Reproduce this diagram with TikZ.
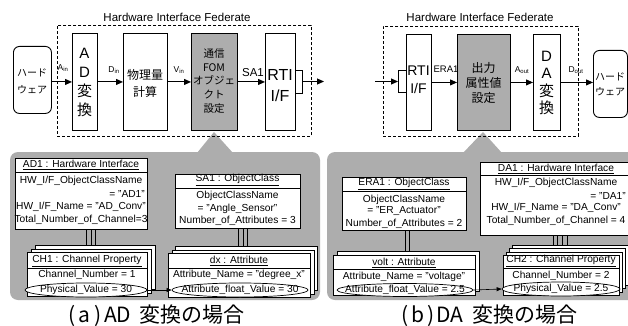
\documentclass[tikz,border=0pt]{standalone}
\usepackage{fontspec}
\setmainfont{Liberation Sans}
\newfontfamily\jp{Noto Sans CJK JP}
\usetikzlibrary{shapes.geometric,arrows.meta}
\definecolor{panel}{gray}{0.68}
\definecolor{boxgray}{gray}{0.68}
\newcommand\hwc[1]{\makebox[0.62em]{#1}}
\begin{document}
\begin{tikzpicture}[x=1pt,y=-1pt,
  blk/.style={draw, line width=0.9pt, inner sep=0pt, anchor=north west},
  hwbox/.style={draw, line width=0.9pt, rounded corners=6pt, inner sep=0pt, anchor=north west},
  btxt/.style={inner sep=0pt, align=center},
  arr/.style={line width=0.9pt, -{Triangle[length=7pt,width=6pt]}},
  lab/.style={inner sep=0pt, font=\fontsize{8.5}{9}\selectfont},
  cls/.style={draw, line width=0.7pt, fill=white, inner sep=0pt, anchor=north west},
  ctext/.style={inner sep=0pt, font=\fontsize{10.2}{12}\selectfont},
  attr/.style={draw, ellipse, line width=0.7pt, fill=white, inner sep=0pt},
  link/.style={line width=0.6pt},
  sarr/.style={line width=0.6pt, -{Triangle[length=5pt,width=4pt]}},
  fedbox/.style={draw, dash pattern=on 3pt off 2pt, line width=0.8pt, inner sep=0pt, anchor=north west},
  fedtitle/.style={inner sep=0pt, font=\fontsize{11.5}{13}\selectfont},
  captxt/.style={inner sep=0pt, font=\jp\fontsize{21}{24}\selectfont},
]
\clip (0,0) rectangle (628,326);
\fill[white] (0,0) rectangle (628,326);

% ---------- gray panels with callouts ----------
\fill[panel, rounded corners=8pt] (10,152) rectangle (320,300);
\fill[panel] (197,153) -- (214,132) -- (233,153) -- cycle;
\fill[panel, rounded corners=8pt] (327,152) rectangle (650,300);
\fill[panel] (463,153) -- (483,132) -- (502,153) -- cycle;

% ---------- (a) top ----------
\node[fedbox, minimum width=254pt, minimum height=111pt] (fed1) at (57,25) {};
\node[fedtitle] (fed1t) at (177,17) {Hardware Interface Federate};

\node[hwbox, minimum width=38pt, minimum height=67pt] (hw1) at (13,46) {};
\node[btxt, font=\jp\fontsize{10}{17}\selectfont] (hw1t) at (32,81) {ハード\\ウェア};

\node[blk, minimum width=25pt, minimum height=97pt] (ad) at (72,33) {};
\node[btxt, font=\fontsize{15}{19}\selectfont] (adt) at (84.5,82) {A\\D\\{\jp 変}\\{\jp 換}};

\node[blk, minimum width=44pt, minimum height=97pt] (phys) at (123,33) {};
\node[btxt, font=\jp\fontsize{12}{17}\selectfont] (physt) at (145,83) {物理量\\計算};

\node[blk, fill=boxgray, minimum width=46pt, minimum height=97pt] (fom) at (191,33) {};
\node[btxt, font=\jp\fontsize{10.5}{13.8}\selectfont] (fomt) at (214,81) {通信\\FOM\\オブジェ\\クト\\設定};

\node[blk, minimum width=30pt, minimum height=97pt] (rti1) at (265,33) {};
\node[btxt, font=\fontsize{16}{21}\selectfont] (rti1t) at (280,86) {RTI\\I/F};
\draw[line width=0.9pt] (295,70) -- (302,70) -- (302,93) -- (295,93);
\coordinate (br1) at (302,81.5);
\coordinate (out1) at (324,81.5);

\draw[arr] (hw1.east |- ad.west) -- (ad.west);
\draw[arr] (ad.east) -- (phys.west);
\draw[arr] (phys.east) -- (fom.west);
\draw[arr] (fom.east) -- (rti1.west);
\draw[arr] (br1) -- (out1);

\node[lab] (lAin) at (63,68) {A\textsubscript{in}};
\node[lab] (lDin) at (114,70) {D\textsubscript{in}};
\node[lab] (lVin) at (179,70) {V\textsubscript{in}};
\node[inner sep=0pt, font=\fontsize{11.5}{13}\selectfont] (lSA1) at (253,73) {SA1};

% ---------- (b) top ----------
\node[fedbox, minimum width=195pt, minimum height=110pt] (fed2) at (383,26) {};
\node[fedtitle] (fed2t) at (480,17) {Hardware Interface Federate};

\coordinate (in2) at (375,81.5);
\node[blk, minimum width=25pt, minimum height=96pt] (rti2) at (406,34) {};
\node[btxt, font=\fontsize{14}{18}\selectfont] (rti2t) at (418.5,80) {RTI\\I/F};
\draw[line width=0.9pt] (406,70) -- (398,70) -- (398,92) -- (406,92);
\coordinate (br2) at (398,81.5);

\node[blk, fill=boxgray, minimum width=53pt, minimum height=96pt] (outb) at (457,34) {};
\node[btxt, font=\jp\fontsize{12}{15}\selectfont] (outbt) at (483.5,83) {出力\\属性値\\設定};

\node[blk, minimum width=27pt, minimum height=96pt] (da) at (533,34) {};
\node[btxt, font=\fontsize{15}{17.5}\selectfont] (dat) at (546.5,83) {D\\A\\{\jp 変}\\{\jp 換}};

\node[hwbox, minimum width=34pt, minimum height=67pt] (hw2) at (593,50) {};
\node[btxt, font=\jp\fontsize{10}{15}\selectfont] (hw2t) at (610,84) {ハード\\ウェア};

\draw[arr] (in2) -- (br2);
\draw[arr] (rti2.east) -- (outb.west);
\draw[arr] (outb.east) -- (da.west);
\draw[arr] (da.east) -- (da.east -| hw2.west);

\node[inner sep=0pt, font=\fontsize{9.5}{11}\selectfont] (lERA) at (446,69) {ERA1};
\node[lab] (lAout) at (522,70) {A\textsubscript{out}};
\node[lab] (lDout) at (576,70) {D\textsubscript{out}};

% ---------- (a) bottom ----------
\node[cls, minimum width=132pt, minimum height=71pt] (AD1) at (15,158) {};
\node[ctext] (AD1t) at (81,165) {\underline{AD1 : Hardware Interface}};
\draw[line width=0.7pt] ([yshift=-14pt]AD1.north west) -- ([yshift=-14pt]AD1.north east);
\node[ctext] (AD1a) at (81,181) {HW\_I/F\_ObjectClassName};
\node[ctext, anchor=east] (AD1b) at (145,194) {= "AD1"};
\node[ctext] (AD1c) at (81,207) {HW\_I/F\_Name = "AD\_Conv"};
\node[ctext] (AD1d) at (81,220) {Total\_Number\_of\_Channel=3};

\node[cls, minimum width=125pt, minimum height=54pt] (SA1) at (175,174) {};
\node[ctext] (SA1t) at (237.5,180) {\underline{SA1 : ObjectClass}};
\draw[line width=0.7pt] ([yshift=-14pt]SA1.north west) -- ([yshift=-14pt]SA1.north east);
\node[ctext] (SA1a) at (237.5,196) {ObjectClassName};
\node[ctext] (SA1b) at (237.5,208.5) {= "Angle\_Sensor"};
\node[ctext] (SA1c) at (237.5,221) {Number\_of\_Attributes = 3};

% CH1 stack
\node[cls, minimum width=120pt, minimum height=44pt] (CH1c) at (35,245) {};
\node[cls, minimum width=120pt, minimum height=44pt] (CH1b) at (31,248.5) {};
\node[cls, minimum width=120pt, minimum height=44pt] (CH1a) at (27,252) {};
\node[ctext] (CH1t) at (87,261) {\underline{CH1 : Channel Property}};
\draw[line width=0.7pt] ([yshift=-16pt]CH1a.north west) -- ([yshift=-16pt]CH1a.north east);
\node[ctext] (CH1x) at (87,275) {Channel\_Number = 1};
\node[attr, minimum width=122pt, minimum height=14pt] (pv1) at (86,290) {};
\node[ctext] (pv1t) at (pv1) {Physical\_Value = 30};

% dx stack
\node[cls, minimum width=142pt, minimum height=44pt] (dxc) at (175,246) {};
\node[cls, minimum width=142pt, minimum height=44pt] (dxb) at (171.5,249.5) {};
\node[cls, minimum width=142pt, minimum height=44pt] (dxa) at (168,253) {};
\node[ctext] (dxt) at (239,261) {\underline{dx : Attribute}};
\draw[line width=0.7pt] ([yshift=-15pt]dxa.north west) -- ([yshift=-15pt]dxa.north east);
\node[ctext] (dxx) at (239,275) {Attribute\_Name = "degree\_x"};
\node[attr, minimum width=136pt, minimum height=14pt] (af1) at (240,290) {};
\node[ctext] (af1t) at (af1) {Attribute\_float\_Value = 30};

\foreach \s in {5,9.5,14}
  \draw[link] ([xshift=\s pt]AD1.south) -- ([xshift=\s pt]AD1.south |- CH1c.north);
\foreach \s in {0.5,5,9.5}
  \draw[link] ([xshift=\s pt]SA1.south) -- ([xshift=\s pt]SA1.south |- dxc.north);
\draw[sarr] (pv1.east) -- (af1.west);

% ---------- (b) bottom ----------
\node[cls, minimum width=124pt, minimum height=53pt] (ERA1) at (342,177) {};
\node[ctext] (ERA1t) at (404,184) {\underline{ERA1 : ObjectClass}};
\draw[line width=0.7pt] ([yshift=-14pt]ERA1.north west) -- ([yshift=-14pt]ERA1.north east);
\node[ctext] (ERA1a) at (404,199.5) {ObjectClassName};
\node[ctext] (ERA1b) at (404,211.5) {= "ER\_Actuator"};
\node[ctext] (ERA1c) at (404,223.5) {Number\_of\_Attributes = 2};

\node[cls, minimum width=142pt, minimum height=40pt] (voltb) at (337,251) {};
\node[cls, minimum width=142pt, minimum height=40pt] (volta) at (333,255) {};
\node[ctext] (voltt) at (404,263) {\underline{volt : Attribute}};
\draw[line width=0.7pt] ([yshift=-14pt]volta.north west) -- ([yshift=-14pt]volta.north east);
\node[ctext] (voltx) at (404,277) {Attribute\_Name = "voltage"};
\node[attr, minimum width=136pt, minimum height=13pt] (af2) at (405,290) {};
\node[ctext] (af2t) at (af2) {Attribute\_float\_Value = 2.5};

\node[cls, minimum width=152pt, minimum height=73pt] (DA1) at (480,162) {};
\node[ctext] (DA1t) at (556,169) {\underline{DA1 : Hardware Interface}};
\draw[line width=0.7pt] ([yshift=-13.5pt]DA1.north west) -- ([yshift=-13.5pt]DA1.north east);
\node[ctext] (DA1a) at (556,183) {HW\_I/F\_ObjectClassName};
\node[ctext, anchor=east] (DA1b) at (626,195.5) {= "DA1"};
\node[ctext] (DA1c) at (556,208) {HW\_I/F\_Name = "DA\_Conv"};
\node[ctext] (DA1d) at (556,221) {Total\_Number\_of\_Channel = 4};

\node[cls, minimum width=116pt, minimum height=40pt] (CH2d) at (512,245.1) {};
\node[cls, minimum width=116pt, minimum height=40pt] (CH2c) at (509,248.4) {};
\node[cls, minimum width=116pt, minimum height=40pt] (CH2b) at (506,251.7) {};
\node[cls, minimum width=116pt, minimum height=40pt] (CH2a) at (503,255) {};
\node[ctext] (CH2t) at (561,261) {\underline{CH2 : Channel Property}};
\draw[line width=0.7pt] ([yshift=-13.5pt]CH2a.north west) -- ([yshift=-13.5pt]CH2a.north east);
\node[ctext] (CH2x) at (561,276) {Channel\_Number = 2};
\node[attr, minimum width=118pt, minimum height=14pt] (pv2) at (561,289) {};
\node[ctext] (pv2t) at (pv2) {Physical\_Value = 2.5};

\foreach \s in {1,5}
  \draw[link] ([xshift=\s pt]ERA1.south) -- ([xshift=\s pt]ERA1.south |- voltb.north);
\foreach \s in {-3,1,6,11}
  \draw[link] ([xshift=\s pt]DA1.south) -- ([xshift=\s pt]DA1.south |- CH2d.north);
\draw[sarr] (af2.east) -- (pv2.west);

% ---------- captions ----------
\node[captxt] (capa) at (155,316) {\hwc{(}\hwc{a}\hwc{)}\hwc{A}\hwc{D}\hspace{0.45em}変換の場合};
\node[captxt] (capb) at (488,316) {\hwc{(}\hwc{b}\hwc{)}\hwc{D}\hwc{A}\hspace{0.45em}変換の場合};
\end{tikzpicture}
\end{document}
